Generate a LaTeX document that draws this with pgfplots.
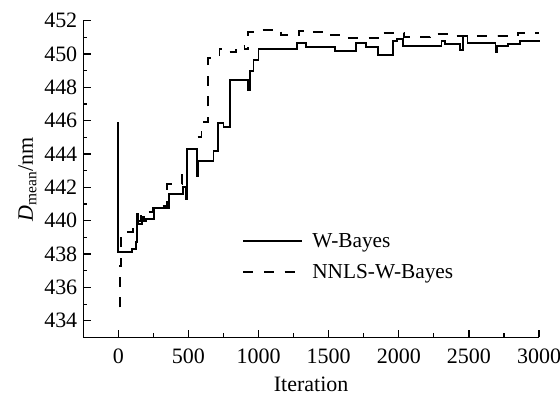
\documentclass[border=0pt]{standalone}
\usepackage{fontspec}
\setmainfont{Liberation Serif}
\usepackage{pgfplots}
\pgfplotsset{compat=1.18}
\begin{document}
\begin{tikzpicture}
\begin{axis}[
  scale only axis,
  width=342pt, height=237.75pt,
  xmin=-250, xmax=3000, ymin=433, ymax=452,
  axis lines=left,
  axis line style={-, line width=0.9pt},
  tick align=inside,
  major tick length=5.5pt, minor tick length=3pt,
  tick style={line width=0.9pt, black},
  xtick={0,500,...,3000}, ytick={434,436,...,452},
  minor x tick num=1, minor y tick num=1,
  /pgf/number format/assume math mode=true,
  /pgf/number format/1000 sep={},
  tick label style={font=\fontsize{16.5}{19}\selectfont},
  xticklabel style={yshift=-5pt},
  yticklabel style={xshift=-1pt},
  label style={font=\fontsize{16.5}{19}\selectfont},
  xlabel={Iteration},
  ylabel={\textit{D}\textsubscript{mean}/nm},
  xlabel style={yshift=-3pt},
  ylabel style={yshift=-1pt},
  legend style={draw=none, fill=none, at={(rel axis cs:0.34,0.255)}, anchor=west,
    font=\fontsize{16}{19}\selectfont, row sep=7pt},
  legend cell align=left,
  legend image code/.code={\draw[#1] (0pt,0pt) -- (44pt,0pt); \path (49pt,0pt);},
  clip=false,
]
\addplot[const plot, black, line width=1.4pt] coordinates {
(0,445.9) (0,438.1) (100,438.3) (125,438.7) (131,440.4) (140,439.8) (170,440.2)
(185,440.0) (200,440.1) (252,440.75) (364,441.6) (460,442.0) (485,441.3)
(490,444.3) (559,442.7) (566,443.6) (679,444.2) (709,445.85) (750,445.6)
(798,448.45) (924,447.85) (940,449.0) (964,449.65) (1000,450.3) (1274,450.64)
(1340,450.4) (1543,450.2) (1693,450.64) (1769,450.44) (1852,449.94)
(1960,450.8) (1985,450.9) (2030,450.48) (2305,450.8) (2330,450.6)
(2436,450.25) (2460,451.08) (2490,450.64) (2690,450.1) (2700,450.5)
(2779,450.6) (2864,450.8) (3000,450.75)
};
\addlegendentry{W-Bayes}
\addplot[const plot, black, line width=1.4pt, dash pattern=on 7.5pt off 8pt] coordinates {
(10,434.8) (10,437.3) (21,439.3) (102,439.6) (130,440.0) (160,440.3)
(200,440.5) (250,440.9) (350,442.2) (457,442.8) (490,444.3) (564,445.0)
(593,445.9) (638,449.74) (709,449.8) (721,450.3) (769,450.1) (840,450.5)
(900,450.3) (924,451.34) (1000,451.45) (1100,451.4) (1162,451.12)
(1288,451.4) (1371,451.32) (1519,451.12) (1620,450.94) (1864,451.28)
(2040,451.0) (2221,451.2) (2400,451.1) (2555,451.08) (2707,451.08)
(2850,451.28) (3000,451.28)
};
\addlegendentry{NNLS-W-Bayes}
\end{axis}
\pgfresetboundingbox
\path ([shift={(-62.5pt,-44.5pt)}]current axis.south west) rectangle ([shift={(15.75pt,15.5pt)}]current axis.north east);
\end{tikzpicture}
\end{document}
